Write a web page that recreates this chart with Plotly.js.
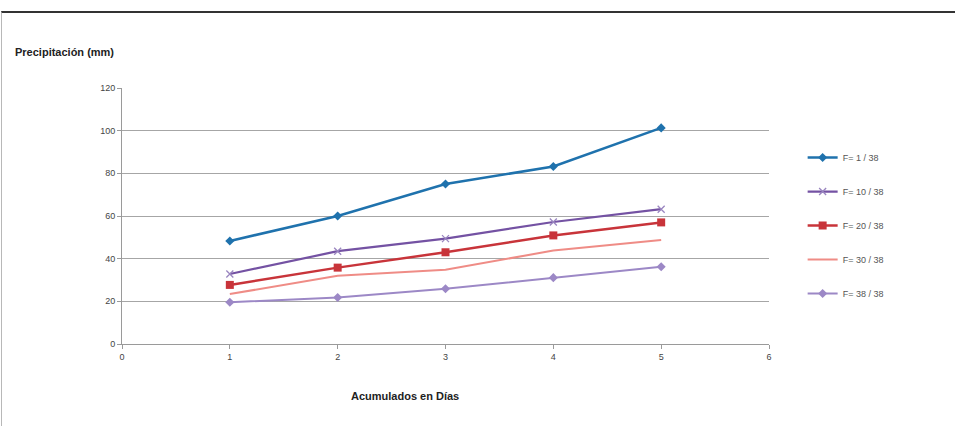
<!DOCTYPE html>
<html>
<head>
<meta charset="utf-8">
<script src="https://cdn.plot.ly/plotly-3.0.1.min.js"></script>
<style>
  html, body { margin: 0; padding: 0; background: #fff; }
  #frame { position: absolute; left: 0; top: 0; width: 955px; height: 426px; overflow: hidden; }
  #edge { position: absolute; left: 1px; top: 11px; width: 954px; height: 415px;
          border-top: 2px solid #333; border-left: 1px solid #b8b8b8; box-sizing: border-box; pointer-events: none; }
  #chart { position: absolute; left: 0; top: 0; width: 955px; height: 426px; }
</style>
</head>
<body>
<div id="frame">
  <div id="chart"></div>
  <div id="edge"></div>
</div>
<script>
// Accumulated days and precipitation (mm) for each frequency
const dias = [1, 2, 3, 4, 5];
const f1_38  = [48.3, 60.0, 75.0, 83.2, 101.3];
const f10_38 = [32.8, 43.5, 49.4, 57.2, 63.2];
const f20_38 = [27.7, 35.8, 43.0, 50.9, 57.0];
const f30_38 = [23.4, 32.0, 34.8, 43.8, 48.8];
const f38_38 = [19.6, 21.8, 25.9, 31.1, 36.2];
const nombres = ['F= 1 / 38', 'F= 10 / 38', 'F= 20 / 38', 'F= 30 / 38', 'F= 38 / 38'];
const xTicks = [0, 1, 2, 3, 4, 5, 6];
const yTicks = [0, 20, 40, 60, 80, 100, 120];

const estilos = [
  { color: '#1f72ad', width: 2.5, marker: { symbol: 'diamond', size: 7 } },
  { color: '#7452a3', width: 2.2, marker: { symbol: 'x-thin', size: 7, line: { width: 1.3, color: '#9a86c0' } } },
  { color: '#c8343a', width: 2.5, marker: { symbol: 'square', size: 8 } },
  { color: '#ef8c86', width: 2.0, marker: null },
  { color: '#9c88c6', width: 2.0, marker: { symbol: 'diamond', size: 7 } }
];
const series = [f1_38, f10_38, f20_38, f30_38, f38_38];

const traces = series.map((ys, i) => {
  const s = estilos[i];
  const t = {
    x: dias, y: ys, name: nombres[i], legendgroup: 'g' + i,
    type: 'scatter',
    mode: s.marker ? 'lines+markers' : 'lines',
    line: { color: s.color, width: s.width },
    hoverinfo: 'x+y+name'
  };
  if (s.marker) t.marker = Object.assign({ color: s.color }, s.marker);
  return t;
});

const tickFont = { family: 'Liberation Sans, Arial, sans-serif', size: 9, color: '#444' };

const layout = {
  width: 955, height: 426,
  margin: { l: 122, r: 186, t: 88, b: 82 },
  paper_bgcolor: '#ffffff', plot_bgcolor: '#ffffff',
  showlegend: true,
  legend: {
    x: 1.052, xanchor: 'left', y: 0.785, yanchor: 'top',
    traceorder: 'grouped', tracegroupgap: 15,
    font: { family: 'Liberation Sans, Arial, sans-serif', size: 9, color: '#555' },
    bgcolor: 'rgba(0,0,0,0)', itemwidth: 30
  },
  xaxis: {
    range: [0, 6], tickvals: xTicks, ticktext: xTicks.map(String),
    showgrid: false, zeroline: false,
    showline: true, linecolor: '#9a9a9a', linewidth: 1,
    ticks: 'outside', ticklen: 4, tickcolor: '#9a9a9a',
    tickfont: tickFont, fixedrange: true
  },
  yaxis: {
    range: [0, 120], tickvals: yTicks, ticktext: yTicks.map(String),
    showgrid: true, gridcolor: '#a6a6a6', gridwidth: 1,
    zeroline: false,
    showline: true, linecolor: '#9a9a9a', linewidth: 1,
    ticks: 'outside', ticklen: 4, tickcolor: '#9a9a9a',
    tickfont: tickFont, fixedrange: true
  },
  annotations: [
    {
      text: '<b>Precipitación (mm)</b>', xref: 'paper', yref: 'paper',
      x: -0.168, y: 1.14, xanchor: 'left', yanchor: 'middle', showarrow: false,
      font: { family: 'Liberation Sans, Arial, sans-serif', size: 11, color: '#222' }
    },
    {
      text: '<b>Acumulados en Días</b>', xref: 'paper', yref: 'paper',
      x: 0.437, y: -0.203, xanchor: 'center', yanchor: 'middle', showarrow: false,
      font: { family: 'Liberation Sans, Arial, sans-serif', size: 11, color: '#222' }
    }
  ]
};

Plotly.newPlot('chart', traces, layout, { displayModeBar: false, staticPlot: true });
</script>
</body>
</html>
